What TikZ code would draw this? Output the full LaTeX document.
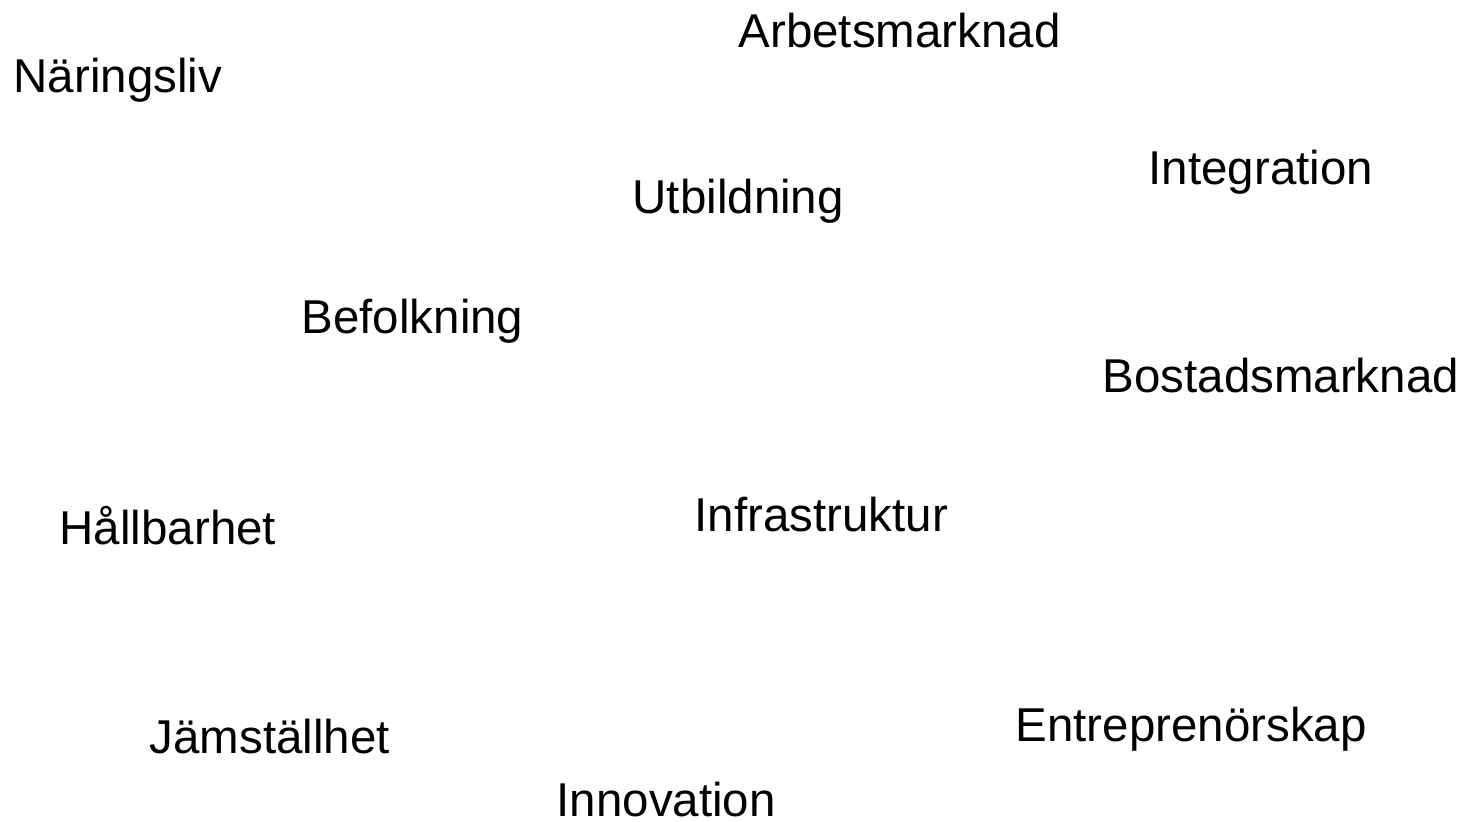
\documentclass[tikz,border=0pt]{standalone}
\usepackage{fontspec}
\setmainfont{Liberation Sans}
\usepackage{tikz}
\tikzstyle{word} = [inner sep=0pt, anchor=base west,
    font=\fontsize{13.5}{16}\selectfont]

\begin{document}
\begin{tikzpicture}[x=0.01cm, y=-0.01cm]
                \useasboundingbox (0,0) rectangle (1466,822);
                \node [word] at (738,48) (arbetsmarknad) {Arbetsmarknad};
                \node [word] at (13,93) (naringsliv) {Näringsliv};
                \node [word] at (1148,185) (integration) {Integration};
                \node [word] at (632,214) (utbildning) {Utbildning};
                \node [word] at (301,334) (befolkning) {Befolkning};
                \node [word] at (1102,393) (bostadsmarknad) {Bostadsmarknad};
                \node [word] at (59,545) (hallbarhet) {Hållbarhet};
                \node [word] at (694,532) (infrastruktur) {Infrastruktur};
                \node [word] at (1015,742) (entreprenorskap) {Entreprenörskap};
                \node [word] at (149,754) (jamstallhet) {Jämställhet};
                \node [word] at (556,817) (innovation) {Innovation};
            \end{tikzpicture}
\end{document}
